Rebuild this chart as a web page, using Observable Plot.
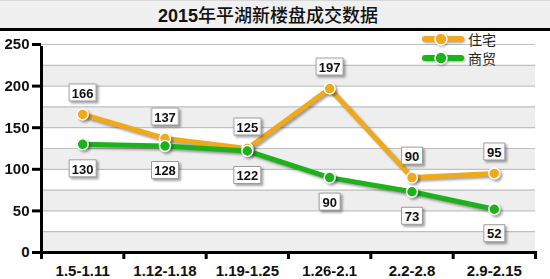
<!DOCTYPE html>
<html>
<head>
<meta charset="utf-8">
<script src="https://cdn.jsdelivr.net/npm/d3@7"></script>
<script src="https://cdn.jsdelivr.net/npm/@observablehq/plot@0.6"></script>
<style>
  html, body { margin: 0; padding: 0; background: #fff; }
  #wrap { position: relative; width: 550px; height: 279px; overflow: hidden; font-family: "Liberation Sans", Arial, "Noto Sans CJK SC", sans-serif; }
  #title { box-sizing: border-box; height: 31px; background: #f0f0f0; border-top: 1px solid #d8d8d8; border-bottom: 3px solid #000;
           text-align: center; font-size: 18px; line-height: 26px; color: #111; padding-right: 14px; font-family: "Liberation Sans", Arial, "Noto Sans CJK SC", sans-serif; }
  #title b { font-weight: bold; }
  #title span { font-family: "Noto Sans CJK SC", sans-serif; font-weight: 500; }
  #legend { position: absolute; left: 422px; top: 29px; font-family: "Noto Sans CJK SC", sans-serif; font-size: 14px; color: #222; }
  #legend .item { display: flex; align-items: center; height: 19px; }
  #legend svg { margin-right: 4px; filter: drop-shadow(1.5px 1.5px 1px rgba(0,0,0,0.35)); }
  #chart svg g[aria-label="line"], #chart svg g[aria-label="dot"] { filter: drop-shadow(2px 2px 1.2px rgba(0,0,0,0.35)); }
</style>
</head>
<body>
<div id="wrap">
  <div id="title"><b>2015</b><span>年平湖新楼盘成交数据</span></div>
  <div id="chart"></div>
  <div id="legend"></div>
</div>
<script>
const categories = ["1.5-1.11", "1.12-1.18", "1.19-1.25", "1.26-2.1", "2.2-2.8", "2.9-2.15"];
const residential = [166, 137, 125, 197, 90, 95];   // 住宅
const commercial = [130, 128, 122, 90, 73, 52];     // 商贸
const seriesNames = ["住宅", "商贸"];
const seriesColors = ["#f0a91b", "#1cb21c"];
const yTicks = [0, 50, 100, 150, 200, 250];
const gridValues = [25, 50, 75, 100, 125, 150, 175, 200, 225, 250];
const stripeBands = [[0, 25], [50, 75], [100, 125], [150, 175], [200, 225]];

const resData = categories.map((c, i) => ({i: i + 0.5, cat: c, v: residential[i]}));
const comData = categories.map((c, i) => ({i: i + 0.5, cat: c, v: commercial[i]}));
const stripes = stripeBands.map(([a, b]) => ({y1: a, y2: b}));

const boxSymbol = (w, h) => ({draw(ctx) { ctx.rect(-w / 2, -h / 2, w, h); }});
const box3 = boxSymbol(27, 17);
const box2 = boxSymbol(21, 17);
const labelBoxes = (data, dy) => [
  Plot.dot(data.filter(d => String(d.v).length >= 3), {x: "i", y: "v", dy, symbol: box3, r: 10, fill: "#fff", stroke: "#9a9a9a", strokeWidth: 1}),
  Plot.dot(data.filter(d => String(d.v).length < 3), {x: "i", y: "v", dy, symbol: box2, r: 10, fill: "#fff", stroke: "#9a9a9a", strokeWidth: 1}),
  Plot.text(data, {x: "i", y: "v", dy: dy + 1, text: d => String(d.v), fontSize: 13, fontWeight: "bold", fill: "#111"})
];

const plot = Plot.plot({
  width: 550,
  height: 248,
  marginTop: 13,
  marginBottom: 27,
  marginLeft: 41,
  marginRight: 15,
  style: {fontFamily: "'Liberation Sans', Arial, sans-serif", background: "transparent", overflow: "visible"},
  x: {domain: [0, categories.length]},
  y: {domain: [0, 250]},
  marks: [
    Plot.rect(stripes, {x1: 0, x2: categories.length, y1: "y1", y2: "y2", fill: "#eeeeee"}),
    Plot.ruleY(gridValues, {stroke: "#c0c0c0", strokeWidth: 1.2}),
    Plot.line(resData, {x: "i", y: "v", stroke: seriesColors[0], strokeWidth: 5, strokeLinejoin: "round"}),
    Plot.dot(resData, {x: "i", y: "v", r: 5.5, fill: seriesColors[0], stroke: "#fff", strokeWidth: 1.5}),
    Plot.line(comData, {x: "i", y: "v", stroke: seriesColors[1], strokeWidth: 5, strokeLinejoin: "round"}),
    Plot.dot(comData, {x: "i", y: "v", r: 5.5, fill: seriesColors[1], stroke: "#fff", strokeWidth: 1.5}),
    ...labelBoxes(resData, -22),
    ...labelBoxes(comData, 24),
    Plot.ruleX([0], {stroke: "#000", strokeWidth: 3, y1: 0, y2: 250, insetBottom: -2}),
    Plot.ruleY([0], {stroke: "#000", strokeWidth: 3, insetRight: -2}),
    Plot.axisY({ticks: yTicks, tickSize: 9, tickPadding: 3, strokeWidth: 3, stroke: "#000", fontSize: 15, fontWeight: "bold", fill: "#111", label: null}),
    Plot.axisX({ticks: d3.range(0, categories.length + 1), tickSize: 7, strokeWidth: 3, stroke: "#000", tickFormat: () => "", label: null}),
    Plot.axisX({ticks: categories.map((c, i) => i + 0.5), tickSize: 0, tickPadding: 13, tickFormat: t => categories[Math.round(t - 0.5)], fontSize: 15, fontWeight: "bold", fill: "#111", label: null})
  ]
});
document.getElementById("chart").appendChild(plot);

const legend = document.getElementById("legend");
seriesNames.forEach((name, k) => {
  const item = document.createElement("div");
  item.className = "item";
  item.innerHTML = `<svg width="42" height="14" viewBox="0 0 42 14"><line x1="3" y1="7" x2="39" y2="7" stroke="${seriesColors[k]}" stroke-width="6" stroke-linecap="round"/><circle cx="19" cy="7" r="6" fill="${seriesColors[k]}" stroke="#fff" stroke-width="1.5"/></svg><span>${name}</span>`;
  legend.appendChild(item);
});
</script>
</body>
</html>
